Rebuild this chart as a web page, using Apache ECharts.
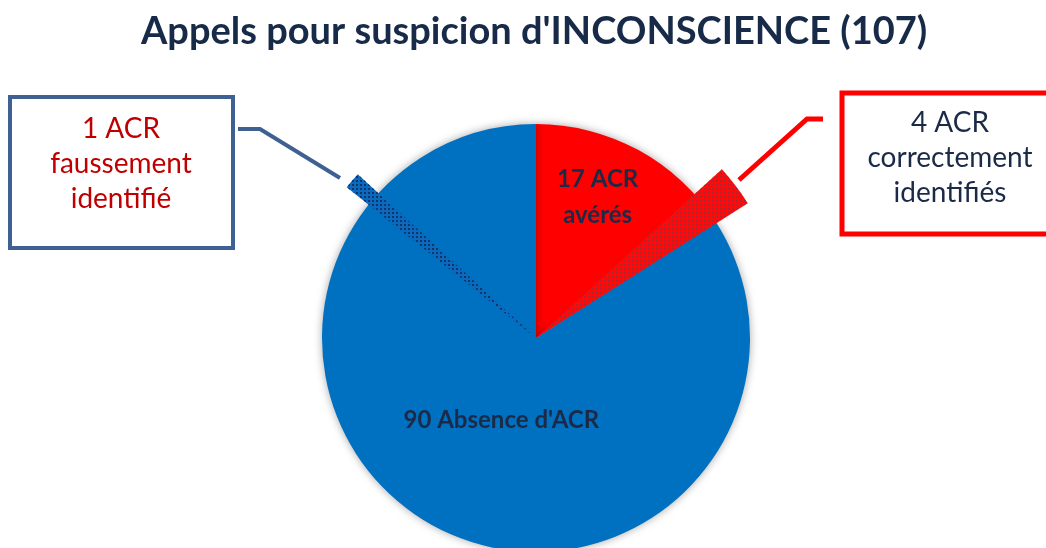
<!DOCTYPE html>
<html>
<head>
<meta charset="utf-8">
<script src="https://cdn.jsdelivr.net/npm/echarts@6/dist/echarts.min.js"></script>
<style>
  html, body { margin: 0; padding: 0; background: #fff; }
  #chart { width: 1046px; height: 548px; }
</style>
</head>
<body>
<div id="chart"></div>
<script>
// données
var titleText = "Appels pour suspicion d'INCONSCIENCE (107)";
var categories = ["17 ACR\navérés", "90 Absence d'ACR"];
var values = [17, 90];
var sliceColors = ["#ff0000", "#0070c0"];

// secteurs hachurés : [avant, secteur, après] (en appels, sur 107)
var hatchCorrect = [14.2, 2.9, 89.9];
var hatchFalse = [91.7, 1.2, 14.1];

var calloutLeft = "1 ACR\nfaussement\nidentifié";
var calloutRight = "4 ACR\ncorrectement\nidentifiés";

var FONT = "Lato";
var myChart = echarts.init(document.getElementById("chart"));

function hatchSeries(name, vals, radius, fill, dots) {
  return {
    name: name,
    type: "pie",
    center: [536, 338],
    radius: [0, radius],
    startAngle: 90,
    clockwise: true,
    silent: true,
    z: 3,
    label: { show: false },
    labelLine: { show: false },
    data: vals.map(function (v, i) {
      if (i !== 1) {
        return { value: v, itemStyle: { color: "rgba(0,0,0,0)" } };
      }
      return {
        value: v,
        itemStyle: {
          color: fill,
          decal: {
            symbol: "rect",
            symbolSize: 1,
            color: dots,
            dashArrayX: [2, 2],
            dashArrayY: [2, 2],
            rotation: 0
          }
        }
      };
    })
  };
}

var labelOffsets = [
  { dx: 9, dy: -44 },
  { dx: 18, dy: -14 }
];

myChart.setOption({
  animation: false,
  title: {
    text: titleText,
    left: 136,
    top: 8,
    textStyle: {
      fontFamily: FONT,
      fontSize: 38,
      fontWeight: "bold",
      color: "#172a48"
    }
  },
  series: [
    {
      name: "appels",
      type: "pie",
      center: [536, 338],
      radius: [0, 214],
      startAngle: 90,
      clockwise: true,
      z: 2,
      itemStyle: {
        shadowBlur: 8,
        shadowColor: "rgba(0,0,0,0.35)"
      },
      label: {
        show: true,
        position: "inner",
        fontFamily: FONT,
        fontWeight: "bold",
        fontSize: 24,
        lineHeight: 36,
        color: "#1b2a47"
      },
      labelLine: { show: false },
      labelLayout: function (p) {
        return labelOffsets[p.dataIndex];
      },
      data: categories.map(function (c, i) {
        return { name: c, value: values[i], itemStyle: { color: sliceColors[i] } };
      })
    },
    hatchSeries("correct", hatchCorrect, 251, "#ff0a0a", "rgba(110,60,80,0.6)"),
    hatchSeries("faux", hatchFalse, 242, "#0a6ac0", "rgba(20,40,80,0.8)")
  ],
  graphic: [
    // encadré gauche
    {
      type: "rect",
      shape: { x: 10, y: 97, width: 223, height: 151 },
      style: { fill: "#fff", stroke: "#3f6092", lineWidth: 4 }
    },
    {
      type: "text",
      x: 121, y: 164,
      style: {
        text: calloutLeft,
        font: "28px " + FONT,
        fill: "#c00000",
        align: "center",
        verticalAlign: "middle",
        lineHeight: 35
      }
    },
    {
      type: "polyline",
      shape: { points: [[238, 129], [260, 129], [340, 178]] },
      style: { stroke: "#3f6092", lineWidth: 4, fill: null }
    },
    // encadré droit
    {
      type: "rect",
      shape: { x: 842, y: 93, width: 210, height: 141 },
      style: { fill: "#fff", stroke: "#ff0000", lineWidth: 5 }
    },
    {
      type: "text",
      x: 950, y: 158,
      style: {
        text: calloutRight,
        font: "28px " + FONT,
        fill: "#1b2a47",
        align: "center",
        verticalAlign: "middle",
        lineHeight: 35
      }
    },
    {
      type: "polyline",
      shape: { points: [[823, 119], [807, 119], [739, 180]] },
      style: { stroke: "#ff0000", lineWidth: 5, fill: null }
    }
  ]
});
</script>
</body>
</html>
